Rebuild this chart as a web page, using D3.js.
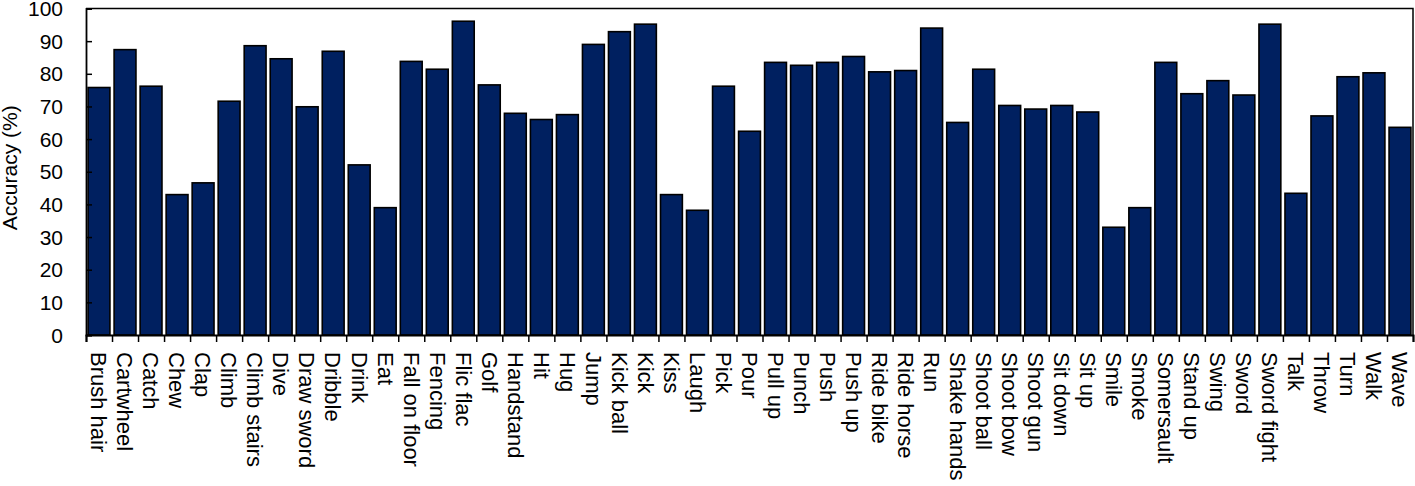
<!DOCTYPE html>
<html>
<head>
<meta charset="utf-8">
<script src="https://cdn.jsdelivr.net/npm/d3@7"></script>
<style>
	body { margin: 0; background: #fff; }
	text { font-family: 'Liberation Sans', Arial, sans-serif; fill: #000; }
</style>
</head>
<body>
<div id="vis"></div>
<script>
var categories = ['Brush hair', 'Cartwheel', 'Catch', 'Chew', 'Clap', 'Climb', 'Climb stairs', 'Dive',
	'Draw sword', 'Dribble', 'Drink', 'Eat', 'Fall on floor', 'Fencing', 'Flic flac', 'Golf',
	'Handstand', 'Hit', 'Hug', 'Jump', 'Kick ball', 'Kick', 'Kiss', 'Laugh', 'Pick', 'Pour',
	'Pull up', 'Punch', 'Push', 'Push up', 'Ride bike', 'Ride horse', 'Run', 'Shake hands',
	'Shoot ball', 'Shoot bow', 'Shoot gun', 'Sit down', 'Sit up', 'Smile', 'Smoke', 'Somersault',
	'Stand up', 'Swing', 'Sword', 'Sword fight', 'Talk', 'Throw', 'Turn', 'Walk', 'Wave'];

var accuracy = [75.8, 87.4, 76.2, 43.0, 46.6, 71.6, 88.6, 84.6,
	69.9, 86.9, 52.1, 39.0, 83.8, 81.4, 96.1, 76.6,
	67.9, 66.0, 67.5, 89.0, 92.9, 95.2, 43.0, 38.2, 76.2, 62.4,
	83.5, 82.6, 83.5, 85.3, 80.6, 81.0, 94.0, 65.1,
	81.4, 70.3, 69.2, 70.3, 68.3, 33.0, 39.0, 83.5,
	73.9, 77.9, 73.5, 95.2, 43.4, 67.1, 79.1, 80.3, 63.6];

var yTicks = [0, 10, 20, 30, 40, 50, 60, 70, 80, 90, 100];

var width = 1415,
	height = 486;

var margin = { left: 86, top: 8.5, right: 2, bottom: 151 };

var drawWidth = width - margin.left - margin.right,
	drawHeight = height - margin.top - margin.bottom;

var data = categories.map(function(c, i) { return { name: c, value: accuracy[i] }; });

var svg = d3.select('#vis')
	.append('svg')
	.attr('width', width)
	.attr('height', height);

var g = svg.append('g')
	.attr('transform', 'translate(' + margin.left + ',' + margin.top + ')');

var x = d3.scaleBand()
	.domain(categories)
	.range([0, drawWidth])
	.paddingInner(0.16)
	.paddingOuter(0.08);

// boundary ticks between bars
var xEdge = d3.scaleLinear()
	.domain([0, categories.length])
	.range([0, drawWidth]);

var y = d3.scaleLinear()
	.domain([0, 100])
	.range([drawHeight, 0]);

// bars
g.selectAll('rect.bar')
	.data(data)
	.enter().append('rect')
	.attr('class', 'bar')
	.attr('x', function(d) { return x(d.name); })
	.attr('y', function(d) { return y(d.value); })
	.attr('width', x.bandwidth())
	.attr('height', function(d) { return y(0) - y(d.value); })
	.attr('fill', '#002060')
	.attr('stroke', '#000')
	.attr('stroke-width', 1.6);

// frame (top and right)
g.append('path')
	.attr('d', 'M0,0H' + drawWidth + 'V' + drawHeight)
	.attr('fill', 'none')
	.attr('stroke', '#000')
	.attr('stroke-width', 1.5);

// y axis, ticks pointing inward
var yAxis = g.append('g')
	.call(d3.axisRight(y).tickValues(yTicks).tickSize(6).tickFormat(''));
yAxis.select('.domain').attr('stroke-width', 1.8);
yAxis.selectAll('.tick line').attr('stroke-width', 1.5);

g.append('g')
	.selectAll('text')
	.data(yTicks)
	.enter().append('text')
	.attr('x', -23)
	.attr('y', function(d) { return y(d); })
	.attr('dy', '0.36em')
	.attr('text-anchor', 'end')
	.attr('font-size', 21)
	.text(function(d) { return d; });

// x axis with boundary ticks
var xAxis = g.append('g')
	.attr('transform', 'translate(0,' + drawHeight + ')')
	.call(d3.axisBottom(xEdge).tickValues(d3.range(categories.length + 1)).tickSize(7).tickFormat(''));
xAxis.select('.domain').attr('stroke-width', 2);
xAxis.selectAll('.tick line').attr('stroke-width', 1.5);

// category labels
g.append('g')
	.selectAll('text')
	.data(categories)
	.enter().append('text')
	.attr('transform', function(d) {
		return 'translate(' + (x(d) + x.bandwidth() / 2) + ',' + (drawHeight + 17) + ') rotate(90)';
	})
	.attr('dy', '0.35em')
	.attr('text-anchor', 'start')
	.attr('font-size', 22)
	.text(function(d) { return d; });

// y axis title
svg.append('text')
	.attr('transform', 'translate(17,' + (margin.top + drawHeight / 2 - 4) + ') rotate(-90)')
	.attr('text-anchor', 'middle')
	.attr('font-size', 21)
	.text('Accuracy (%)');
</script>
</body>
</html>
